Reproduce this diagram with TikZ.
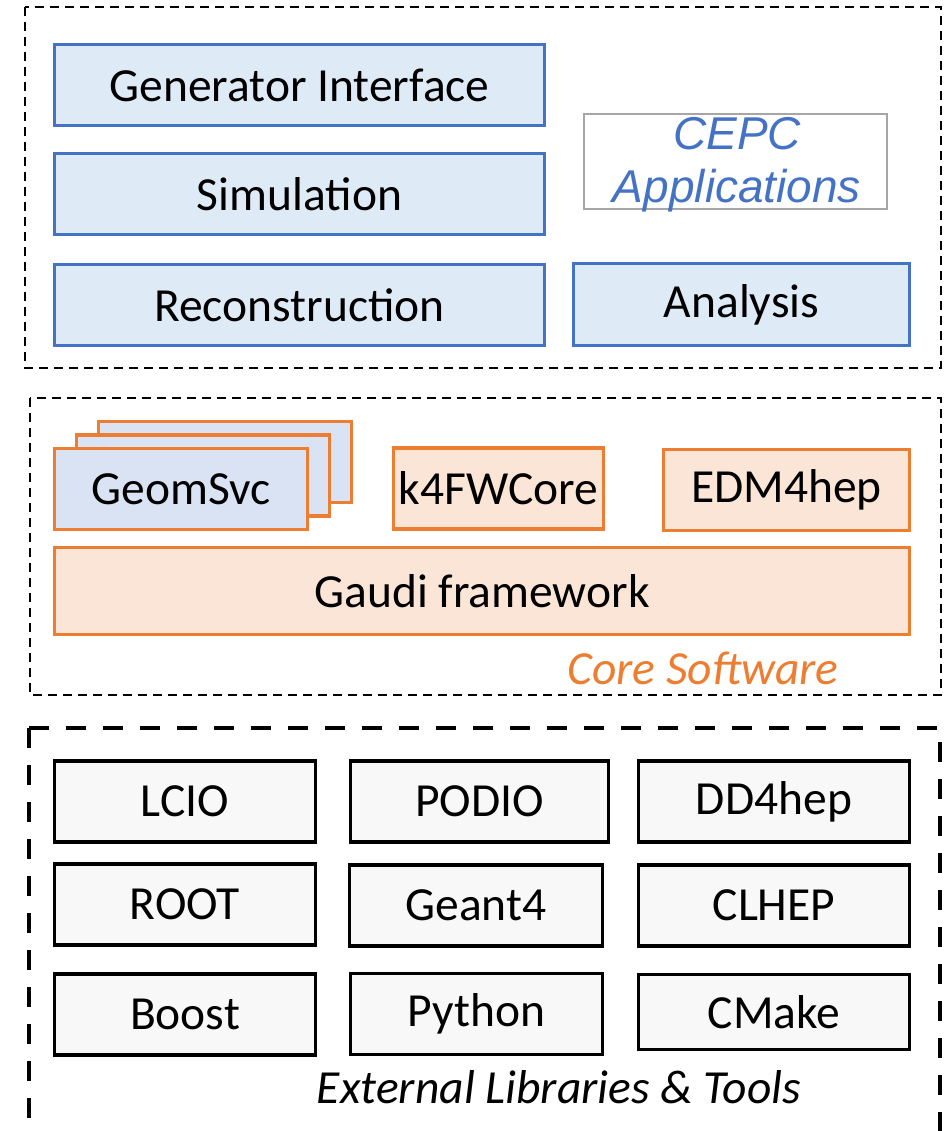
\documentclass[tikz,border=0pt]{standalone}
\usepackage{fontspec}
\setmainfont{Carlito}
\newfontfamily\arialfont{Liberation Sans}
\usetikzlibrary{calc}
\definecolor{appblue}{HTML}{4472C4}
\definecolor{appfill}{HTML}{DEEBF7}
\definecolor{geomfill}{HTML}{DAE3F3}
\definecolor{coreorange}{HTML}{ED7D31}
\definecolor{corefill}{HTML}{FBE5D6}
\definecolor{extfill}{HTML}{F8F8F8}
\definecolor{cepcgray}{HTML}{A6A6A6}
\tikzset{%
  box/.style      = {shape=rectangle, draw, align=center,%
                     inner sep=0pt, outer sep=0pt,%
                     font=\fontsize{47.5}{57}\selectfont},%
  appbox/.style   = {box, draw=appblue, fill=appfill, line width=3, minimum height=81},%
  corebox/.style  = {box, draw=coreorange, fill=corefill, line width=3.5, minimum height=81},%
  geombox/.style  = {corebox, fill=geomfill, minimum width=253},%
  extbox/.style   = {box, draw=black, fill=extfill, line width=3.5, minimum height=81},%
  frame/.style    = {draw, line width=2.5, dash pattern=on 9pt off 6pt},%
  extframe/.style = {draw, line width=4.5, dash pattern=on 20pt off 17pt}%
}
\begin{document}
\begin{tikzpicture}[x=1pt,y=-1pt]%
	\useasboundingbox (0,0) rectangle (949,1131);
	% applications
	\draw [frame] (25,7) rectangle (941,368);
	\node (gen)  at (299.5,85)  [appbox, minimum width=490] {Generator Interface};
	\node (sim)  at (299.5,194) [appbox, minimum width=490] {Simulation};
	\node (reco) at (299.5,305) [appbox, minimum width=490] {Reconstruction};
	\node (cepc) at (735.5,161.5) [box, draw=cepcgray, line width=2,%
		minimum width=303, minimum height=95] {};
	\node (cepctext) at (737,165) [text=appblue, align=center, inner sep=0pt,%
		font=\arialfont\itshape\fontsize{46}{53}\selectfont] {CEPC\\Applications};
	\node (ana)  at (741.5,304.5) [appbox, minimum width=336] {Analysis};
	% core software
	\draw [frame] (30,398) rectangle (941,695);
	\node (geom) at (181,489) [geombox] {};
	\node (geomback) at ($(geom)+(44,-27)$) [geombox] {};
	\node (geommid)  at ($(geom)+(22,-13.5)$) [geombox] {};
	\node (geomfront) at (geom) [geombox] {GeomSvc};
	\node (k4fw)  at (498.5,488.5) [corebox, minimum width=210] {k4FWCore};
	\node (edm)   at (786.5,490)   [corebox, minimum width=246] {EDM4hep};
	\node (gaudi) at (482,591)     [corebox, minimum width=855, minimum height=87] {Gaudi framework};
	\node (coretitle) at (703,668) [text=coreorange, font=\itshape\fontsize{47.5}{57}\selectfont] {Core Software};
	% external libraries
	\draw [extframe] (29,728) -- (940,728) -- (940,1150) (29,728) -- (29,1150);
	\node (lcio)   at (185,801.5)   [extbox, minimum width=261] {LCIO};
	\node (podio)  at (479.5,801.5) [extbox, minimum width=258] {PODIO};
	\node (dd4hep) at (774,801.5)   [extbox, minimum width=271] {DD4hep};
	\node (root)   at (185,904.5)   [extbox, minimum width=261] {ROOT};
	\node (geant)  at (476,905.5)   [extbox, minimum width=253] {Geant4};
	\node (clhep)  at (774,905.5)   [extbox, minimum width=271] {CLHEP};
	\node (boost)  at (185,1014.5)  [extbox, minimum width=261] {Boost};
	\node (python) at (476.5,1014)  [extbox, minimum width=252] {Python};
	\node (cmake)  at (774,1012)    [extbox, minimum width=271, minimum height=75] {CMake};
	\node (exttitle) at (559,1087) [font=\itshape\fontsize{47.5}{57}\selectfont] {External Libraries \& Tools};
\end{tikzpicture}
\end{document}
